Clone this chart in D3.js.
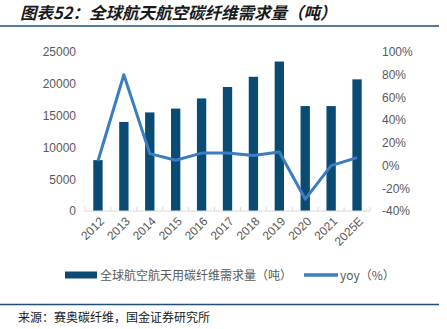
<!DOCTYPE html>
<html><head><meta charset="utf-8">
<script src="https://cdn.jsdelivr.net/npm/d3@7"></script>
<style>
body{margin:0;background:#fff;}
svg{display:block;font-family:"Liberation Sans",Arial,"Noto Sans CJK SC",sans-serif;}
</style></head><body>
<svg id="c" width="447" height="329"></svg>
<script>
const categories = ["2012","2013","2014","2015","2016","2017","2018","2019","2020","2021","2025E"];
const demand = [8000,14000,15500,16100,17700,19500,21100,23500,16500,16500,20700];
const yoy = [4,80,10.5,4.7,11,11,8.8,12,-29.5,0,7];
const leftTicks = [0,5000,10000,15000,20000,25000];
const rightTicks = [-40,-20,0,20,40,60,80,100];
const titleText = "图表52：全球航天航空碳纤维需求量（吨）";
const legendBar = "全球航空航天用碳纤维需求量（吨）";
const legendLine = "yoy（%）";
const sourceText = "来源：赛奥碳纤维，国金证券研究所";

const svg = d3.select("#c");
const barColor = "#0a4b73", lineColor = "#3b7dc1", textColor = "#595959", axisColor = "#d9d9d9";
const cjk = '"Noto Sans CJK SC","Liberation Sans",sans-serif';

// title
svg.append("text").attr("x",20).attr("y",19).text(titleText)
  .attr("font-family",cjk).attr("font-size",16.5).attr("font-weight","bold")
  .attr("font-style","italic").attr("fill","#1a1a1a");
svg.append("line").attr("x1",0).attr("x2",439).attr("y1",26).attr("y2",26)
  .attr("stroke","#1f4e79").attr("stroke-width",1.5);

const x = d3.scaleBand().domain(categories).range([85,370]).paddingInner(0.64).paddingOuter(0.32);
const y = d3.scaleLinear().domain([0,25000]).range([211,52]);
const y2 = d3.scaleLinear().domain([-40,100]).range([211,52]);

// left axis
const la = svg.append("g").attr("transform","translate(76,0)")
  .call(d3.axisLeft(y).tickValues(leftTicks).tickFormat(d3.format("d")).tickSize(0).tickPadding(0));
la.select(".domain").remove();
la.selectAll("text").attr("font-size",12).attr("fill",textColor).attr("font-family",'"Liberation Sans",Arial,sans-serif');

// right axis
const ra = svg.append("g").attr("transform","translate(382,0)")
  .call(d3.axisRight(y2).tickValues(rightTicks).tickFormat(d=>d+"%").tickSize(0).tickPadding(0));
ra.select(".domain").remove();
ra.selectAll("text").attr("font-size",12).attr("fill",textColor).attr("font-family",'"Liberation Sans",Arial,sans-serif');

// bars
svg.append("g").selectAll("rect").data(categories).join("rect")
  .attr("x",d=>x(d)).attr("width",x.bandwidth())
  .attr("y",(d,i)=>y(demand[i])).attr("height",(d,i)=>y(0)-y(demand[i]))
  .attr("fill",barColor);

// x axis line & ticks
svg.append("line").attr("x1",85).attr("x2",370).attr("y1",211).attr("y2",211)
  .attr("stroke",axisColor).attr("stroke-width",1);
const bounds = d3.range(categories.length+1).map(i=>85+i*(285/categories.length));
svg.append("g").selectAll("line").data(bounds).join("line")
  .attr("x1",d=>d).attr("x2",d=>d).attr("y1",207).attr("y2",211)
  .attr("stroke",axisColor).attr("stroke-width",1);

// x labels
svg.append("g").selectAll("text").data(categories).join("text")
  .attr("transform",d=>`translate(${x(d)+x.bandwidth()/2+4},${219}) rotate(-45)`)
  .attr("text-anchor","end").attr("dy","0.35em")
  .attr("font-size",12).attr("fill",textColor).text(d=>d);

// line
const line = d3.line().x((d,i)=>x(categories[i])+x.bandwidth()/2).y(d=>y2(d));
svg.append("path").datum(yoy).attr("d",line).attr("fill","none")
  .attr("stroke",lineColor).attr("stroke-width",3).attr("stroke-linejoin","round");

// legend
svg.append("rect").attr("x",65).attr("y",271.5).attr("width",32).attr("height",7).attr("fill",barColor);
svg.append("text").attr("x",100).attr("y",279.5).text(legendBar)
  .attr("font-family",cjk).attr("font-size",12).attr("fill",textColor);
svg.append("line").attr("x1",304).attr("x2",338).attr("y1",275).attr("y2",275)
  .attr("stroke",lineColor).attr("stroke-width",3.5);
svg.append("text").attr("x",340).attr("y",279.5).text(legendLine)
  .attr("font-family",cjk).attr("font-size",12).attr("fill",textColor);

// bottom
svg.append("line").attr("x1",0).attr("x2",439).attr("y1",304.5).attr("y2",304.5)
  .attr("stroke","#1f4e79").attr("stroke-width",1.5);
svg.append("text").attr("x",18).attr("y",322).text(sourceText)
  .attr("font-family",cjk).attr("font-size",12).attr("fill","#1a1a1a");
</script></body></html>
